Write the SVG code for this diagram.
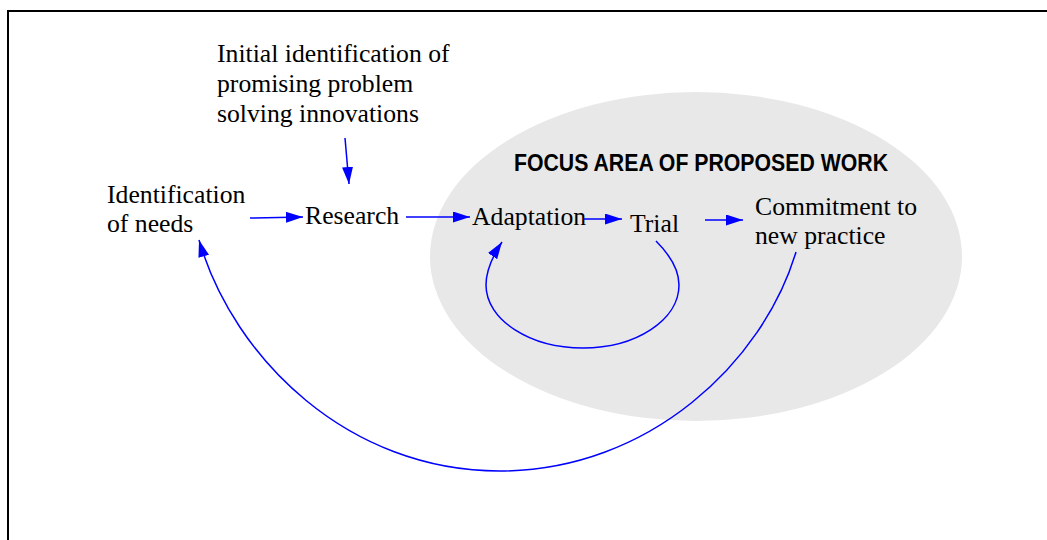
<svg xmlns="http://www.w3.org/2000/svg" width="1047" height="540" viewBox="0 0 1047 540">
  <style>
    .lbl { font-family: "Liberation Serif", "Times New Roman", serif; font-size: 25.7px; fill: #000; }
    .focus { font-family: "Liberation Sans", Arial, sans-serif; font-size: 23px; font-weight: bold; fill: #000; }
    .conn { fill: none; stroke: #0000FF; stroke-width: 1.5; marker-end: url(#arrow); }
  </style>
  <defs>
    <marker id="arrow" markerUnits="userSpaceOnUse" markerWidth="17" markerHeight="11" refX="17" refY="5.5" orient="auto">
      <path d="M0,0 L17,5.5 L0,11 Z" fill="#0000FF"/>
    </marker>
  </defs>

  <rect x="0" y="0" width="1047" height="540" fill="#FFFFFF"/>
  <!-- page frame -->
  <rect x="8" y="11" width="1100" height="600" fill="none" stroke="#000" stroke-width="2"/>

  <!-- shaded focus area -->
  <g id="focus-area">
    <ellipse cx="696" cy="256.5" rx="266" ry="164.5" fill="#E8E8E8"/>
    <text class="focus" x="514" y="171" textLength="374" lengthAdjust="spacingAndGlyphs">FOCUS AREA OF PROPOSED WORK</text>
  </g>

  <g id="initial-identification">
    <text class="lbl" x="217" y="62">Initial identification of</text>
    <text class="lbl" x="217" y="92">promising problem</text>
    <text class="lbl" x="217" y="122">solving innovations</text>
  </g>
  <g id="identification-of-needs">
    <text class="lbl" x="107" y="203">Identification</text>
    <text class="lbl" x="107" y="232">of needs</text>
  </g>
  <g id="research">
    <text class="lbl" x="305" y="224">Research</text>
  </g>
  <g id="adaptation">
    <text class="lbl" x="472" y="225">Adaptation</text>
  </g>
  <g id="trial">
    <text class="lbl" x="630" y="232">Trial</text>
  </g>
  <g id="commitment">
    <text class="lbl" x="755" y="215">Commitment to</text>
    <text class="lbl" x="755" y="244">new practice</text>
  </g>

  <g id="connectors">
    <path class="conn" d="M345,138 L349,184"/>
    <path class="conn" d="M250,218 L303,217"/>
    <path class="conn" d="M406,217 L470,217"/>
    <path class="conn" d="M583,219 L622,219"/>
    <path class="conn" d="M705,220 L743,220"/>
    <!-- trial loops back to adaptation -->
    <path class="conn" d="M656,241 C668,253 679,268 679,285 C679,320 636,348 583,348 C530,348 486,320 486,285 C486,269 494,254 502,242"/>
    <!-- commitment feeds back to identification of needs -->
    <path class="conn" d="M796,252 C763,362 649.5,471 499.5,471 C349.5,471 234,360 199,240"/>
  </g>
</svg>
